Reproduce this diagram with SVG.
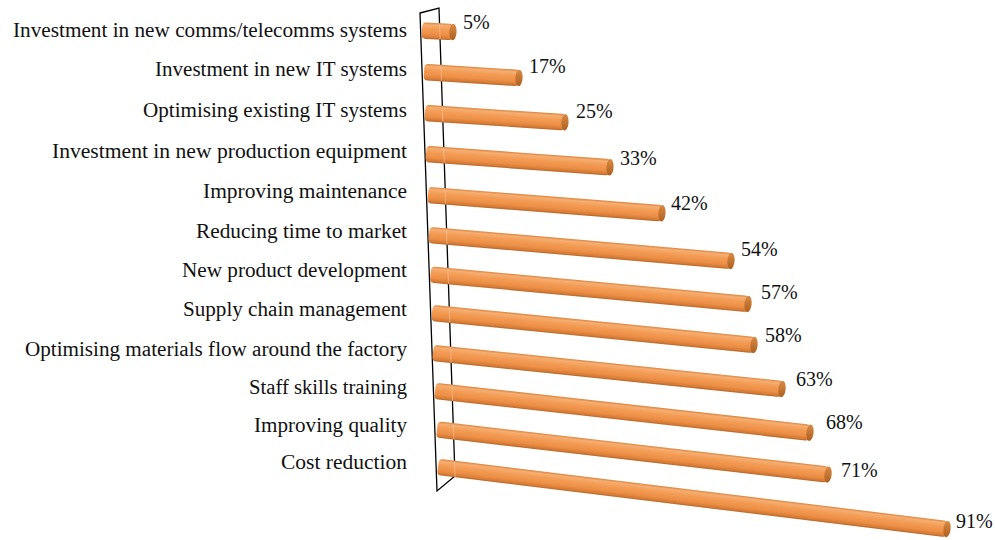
<svg xmlns="http://www.w3.org/2000/svg" width="995" height="540" viewBox="0 0 995 540">
<defs>
<linearGradient id="body" x1="0" y1="0" x2="0" y2="1">
<stop offset="0" stop-color="#DC843C"/>
<stop offset="0.14" stop-color="#F6AE72"/>
<stop offset="0.38" stop-color="#F39C55"/>
<stop offset="0.7" stop-color="#ED8F46"/>
<stop offset="0.9" stop-color="#D67B35"/>
<stop offset="1" stop-color="#B4662A"/>
</linearGradient>
<linearGradient id="cap" x1="0" y1="0" x2="0" y2="1">
<stop offset="0" stop-color="#D88A45"/>
<stop offset="1" stop-color="#AE6020"/>
</linearGradient>
<style>
.lbl{font-family:"Liberation Serif","Times New Roman",serif;font-size:20.5px;fill:#111;text-anchor:end}
.val{font-family:"Liberation Serif","Times New Roman",serif;font-size:20px;fill:#111}
.bar{fill:url(#body)}
.cap{fill:url(#cap)}
.wall{fill:none;stroke:#000;stroke-width:1.3;stroke-linejoin:miter}
.glint{stroke:#F7CBA6;stroke-width:1;opacity:0.55}
</style>
</defs>
<rect width="995" height="540" fill="#fff"/>
<g id="wall">
<polygon class="wall" points="420,13 439,8 455,476 437,491"/>
</g>
<g id="cat1">
<text class="lbl" x="407" y="37" textLength="394" lengthAdjust="spacingAndGlyphs">Investment in new comms/telecomms systems</text>
<g transform="translate(422,30.5) rotate(2.8)"><rect class="bar" x="0" y="-8.2" width="31" height="16.4" rx="4"/><ellipse class="cap" cx="31" cy="0" rx="3.6" ry="8.2"/></g>
<text class="val" x="463" y="29">5%</text>
</g>
<g id="cat2">
<text class="lbl" x="407" y="76" textLength="252" lengthAdjust="spacingAndGlyphs">Investment in new IT systems</text>
<g transform="translate(424,72) rotate(3.61)"><rect class="bar" x="0" y="-8.2" width="95.2" height="16.4" rx="4"/><ellipse class="cap" cx="95.2" cy="0" rx="3.6" ry="8.2"/></g>
<text class="val" x="529" y="73">17%</text>
</g>
<g id="cat3">
<text class="lbl" x="407" y="117" textLength="264" lengthAdjust="spacingAndGlyphs">Optimising existing IT systems</text>
<g transform="translate(425,113) rotate(3.80)"><rect class="bar" x="0" y="-8.2" width="140.3" height="16.4" rx="4"/><ellipse class="cap" cx="140.3" cy="0" rx="3.6" ry="8.2"/></g>
<text class="val" x="576" y="118">25%</text>
</g>
<g id="cat4">
<text class="lbl" x="407" y="158" textLength="355" lengthAdjust="spacingAndGlyphs">Investment in new production equipment</text>
<g transform="translate(426,154) rotate(4.13)"><rect class="bar" x="0" y="-8.2" width="184.5" height="16.4" rx="4"/><ellipse class="cap" cx="184.5" cy="0" rx="3.6" ry="8.2"/></g>
<text class="val" x="620" y="165">33%</text>
</g>
<g id="cat5">
<text class="lbl" x="407" y="198" textLength="204" lengthAdjust="spacingAndGlyphs">Improving maintenance</text>
<g transform="translate(428,195) rotate(4.47)"><rect class="bar" x="0" y="-8.2" width="234.7" height="16.4" rx="4"/><ellipse class="cap" cx="234.7" cy="0" rx="3.6" ry="8.2"/></g>
<text class="val" x="671" y="210">42%</text>
</g>
<g id="cat6">
<text class="lbl" x="407" y="238" textLength="211" lengthAdjust="spacingAndGlyphs">Reducing time to market</text>
<g transform="translate(429,235) rotate(4.92)"><rect class="bar" x="0" y="-8.2" width="303.1" height="16.4" rx="4"/><ellipse class="cap" cx="303.1" cy="0" rx="3.6" ry="8.2"/></g>
<text class="val" x="741" y="256">54%</text>
</g>
<g id="cat7">
<text class="lbl" x="407" y="277" textLength="225" lengthAdjust="spacingAndGlyphs">New product development</text>
<g transform="translate(430.5,274.5) rotate(5.31)"><rect class="bar" x="0" y="-8.2" width="318.9" height="16.4" rx="4"/><ellipse class="cap" cx="318.9" cy="0" rx="3.6" ry="8.2"/></g>
<text class="val" x="761" y="299">57%</text>
</g>
<g id="cat8">
<text class="lbl" x="407" y="316" textLength="224" lengthAdjust="spacingAndGlyphs">Supply chain management</text>
<g transform="translate(432,313) rotate(5.68)"><rect class="bar" x="0" y="-8.2" width="323.6" height="16.4" rx="4"/><ellipse class="cap" cx="323.6" cy="0" rx="3.6" ry="8.2"/></g>
<text class="val" x="765" y="342">58%</text>
</g>
<g id="cat9">
<text class="lbl" x="407" y="356" textLength="382" lengthAdjust="spacingAndGlyphs">Optimising materials flow around the factory</text>
<g transform="translate(433,353) rotate(5.89)"><rect class="bar" x="0" y="-8.2" width="350.9" height="16.4" rx="4"/><ellipse class="cap" cx="350.9" cy="0" rx="3.6" ry="8.2"/></g>
<text class="val" x="796" y="386">63%</text>
</g>
<g id="cat10">
<text class="lbl" x="407" y="394" textLength="158" lengthAdjust="spacingAndGlyphs">Staff skills training</text>
<g transform="translate(435,391) rotate(6.35)"><rect class="bar" x="0" y="-8.2" width="377.3" height="16.4" rx="4"/><ellipse class="cap" cx="377.3" cy="0" rx="3.6" ry="8.2"/></g>
<text class="val" x="826" y="429">68%</text>
</g>
<g id="cat11">
<text class="lbl" x="407" y="432" textLength="153" lengthAdjust="spacingAndGlyphs">Improving quality</text>
<g transform="translate(437,429.5) rotate(6.57)"><rect class="bar" x="0" y="-8.2" width="393.6" height="16.4" rx="4"/><ellipse class="cap" cx="393.6" cy="0" rx="3.6" ry="8.2"/></g>
<text class="val" x="841" y="477">71%</text>
</g>
<g id="cat12">
<text class="lbl" x="407" y="469" textLength="126" lengthAdjust="spacingAndGlyphs">Cost reduction</text>
<g transform="translate(438,467) rotate(6.95)"><rect class="bar" x="0" y="-8.2" width="512.8" height="16.4" rx="4"/><ellipse class="cap" cx="512.8" cy="0" rx="3.6" ry="8.2"/></g>
<text class="val" x="956" y="528">91%</text>
</g>
<g id="wall-edge">
<line class="glint" x1="439.5" y1="23.3" x2="440.1" y2="39.3"/>
<line class="glint" x1="440.9" y1="65.1" x2="441.5" y2="81.1"/>
<line class="glint" x1="442.3" y1="106.2" x2="442.9" y2="122.2"/>
<line class="glint" x1="443.7" y1="147.3" x2="444.3" y2="163.3"/>
<line class="glint" x1="445.1" y1="188.4" x2="445.7" y2="204.4"/>
<line class="glint" x1="446.5" y1="228.5" x2="447.1" y2="244.5"/>
<line class="glint" x1="447.9" y1="268.1" x2="448.5" y2="284.1"/>
<line class="glint" x1="449.2" y1="306.7" x2="449.8" y2="322.7"/>
<line class="glint" x1="450.6" y1="346.8" x2="451.2" y2="362.8"/>
<line class="glint" x1="451.9" y1="384.9" x2="452.5" y2="400.9"/>
<line class="glint" x1="453.2" y1="423.4" x2="453.8" y2="439.4"/>
<line class="glint" x1="454.5" y1="461.0" x2="455.1" y2="477.0"/>
</g>
</svg>
